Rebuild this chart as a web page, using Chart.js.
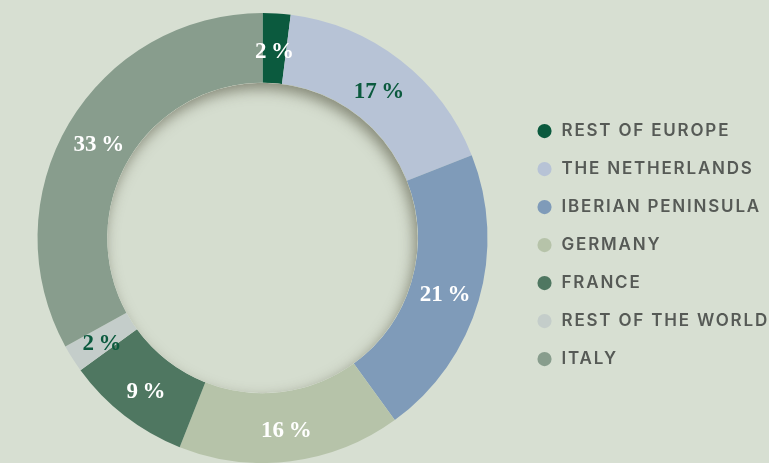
<!DOCTYPE html>
<html>
<head>
<meta charset="utf-8">
<script src="https://cdn.jsdelivr.net/npm/chart.js@4/dist/chart.umd.min.js"></script>
<style>
  html, body { margin: 0; padding: 0; background: #d7dfd2; overflow: hidden; }
  #wrap { width: 769px; height: 463px; }
</style>
</head>
<body>
<div id="wrap"><canvas id="marketChart"></canvas></div>
<script>
const regions = ["REST OF EUROPE", "THE NETHERLANDS", "IBERIAN PENINSULA", "GERMANY", "FRANCE", "REST OF THE WORLD", "ITALY"];
const shares = [2, 17, 21, 16, 9, 2, 33];
const sliceColors = ["#0b5a3e", "#b7c3d6", "#7f9bb9", "#b6c3a9", "#4f7761", "#c4cdca", "#889d8d"];
const labelColors = ["#ffffff", "#0b5a3e", "#ffffff", "#ffffff", "#ffffff", "#0b5a3e", "#ffffff"];

// espaciado de letras para la leyenda (se aplica antes de medir)
const legendSpacing = {
    id: "legendSpacing",
    beforeLayout(chart) { chart.ctx.letterSpacing = "1.8px"; },
    beforeDraw(chart) { chart.ctx.letterSpacing = "1.8px"; }
};

// hueco interior con sombra suave
const holeShadow = {
    id: "holeShadow",
    afterDatasetsDraw(chart) {
        const arc = chart.getDatasetMeta(0).data[0];
        if (!arc) return;
        const { x, y, innerRadius } = arc.getProps(["x", "y", "innerRadius"], true);
        const ctx = chart.ctx;
        ctx.save();
        ctx.beginPath();
        ctx.arc(x, y, innerRadius, 0, Math.PI * 2);
        ctx.clip();
        ctx.fillStyle = "#d5ddcf";
        ctx.fill();
        ctx.shadowColor = "rgba(70, 70, 50, 0.55)";
        ctx.shadowBlur = 14;
        ctx.shadowOffsetX = -3;
        ctx.shadowOffsetY = 6;
        ctx.beginPath();
        ctx.arc(x, y, innerRadius + 20, 0, Math.PI * 2);
        ctx.lineWidth = 40;
        ctx.strokeStyle = "#d5ddcf";
        ctx.stroke();
        ctx.restore();
    }
};

// etiquetas de porcentaje
const sliceLabels = {
    id: "sliceLabels",
    afterDatasetsDraw(chart) {
        const ctx = chart.ctx;
        const meta = chart.getDatasetMeta(0);
        ctx.save();
        ctx.letterSpacing = "0px";
        ctx.textAlign = "center";
        ctx.textBaseline = "middle";
        ctx.font = "bold 23px 'Liberation Serif', serif";
        meta.data.forEach((el, i) => {
            const p = el.tooltipPosition();
            ctx.fillStyle = labelColors[i];
            ctx.fillText(shares[i] + "\u2009%", p.x, p.y + 4);
        });
        ctx.restore();
    }
};

new Chart(document.getElementById("marketChart"), {
    type: "doughnut",
    data: {
        labels: regions,
        datasets: [{
            data: shares,
            backgroundColor: sliceColors,
            borderWidth: 0,
            hoverOffset: 0
        }]
    },
    options: {
        responsive: true,
        maintainAspectRatio: false,
        animation: false,
        cutout: "69%",
        layout: { padding: { top: 13, left: 10, right: -10, bottom: 0 } },
        plugins: {
            tooltip: { enabled: false },
            legend: {
                position: "right",
                title: { display: true, text: "", font: { size: 1 }, padding: { top: 13, bottom: 0 } },
                labels: {
                    usePointStyle: true,
                    pointStyle: "circle",
                    boxWidth: 17,
                    boxHeight: 10,
                    padding: 21,
                    color: "#565a56",
                    font: { family: "Inter", size: 17, weight: "600" }
                }
            }
        }
    },
    plugins: [legendSpacing, holeShadow, sliceLabels]
});
</script>
</body>
</html>
